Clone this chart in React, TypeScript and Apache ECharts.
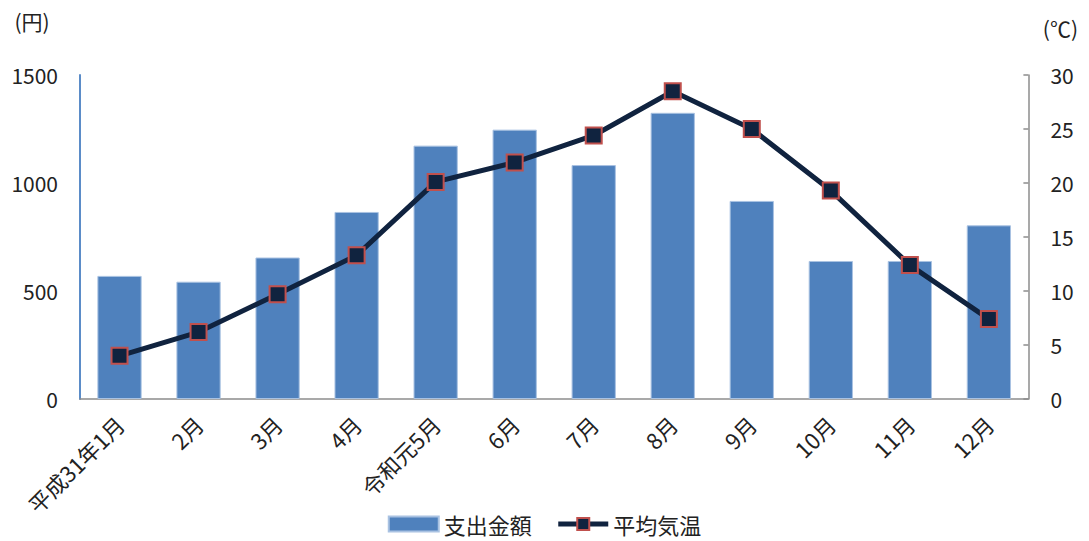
import React, { useEffect, useRef } from "react";
import * as echarts from "echarts";

const categories = ["平成31年1月", "2月", "3月", "4月", "令和元5月", "6月", "7月", "8月", "9月", "10月", "11月", "12月"];
const spending = [570, 543, 655, 866, 1173, 1247, 1083, 1325, 917, 639, 639, 804];
const temperature = [4.0, 6.2, 9.7, 13.3, 20.1, 21.9, 24.4, 28.5, 25.0, 19.3, 12.4, 7.4];
const leftTicks = { min: 0, max: 1500, interval: 500 };
const rightTicks = { min: 0, max: 30, interval: 5 };

const FONT = '"Noto Sans CJK JP", "Noto Sans", sans-serif';

export default function App() {
  const ref = useRef<HTMLDivElement>(null);
  useEffect(() => {
    if (!ref.current) return;
    const chart = echarts.init(ref.current, undefined, { renderer: "svg" });
    chart.setOption({
      animation: false,
      textStyle: { fontFamily: FONT },
      grid: { left: 72, right: 51, top: 67, bottom: 142 },
      legend: {
        top: 505,
        left: "center",
        padding: 0,
        itemWidth: 50,
        itemHeight: 15,
        itemGap: 24,
        textStyle: { fontFamily: FONT, fontSize: 22, color: "#222" },
        data: [
          { name: "支出金額", icon: "rect" },
          { name: "平均気温", lineStyle: { width: 5, color: "#10233F" } },
        ],
      },
      xAxis: {
        type: "category",
        data: categories,
        axisLine: { lineStyle: { color: "#8c8c8c", width: 1.5 } },
        axisTick: { show: false },
        axisLabel: { rotate: 45, fontSize: 22, color: "#222", fontFamily: FONT, margin: 21, interval: 0 },
      },
      yAxis: [
        {
          type: "value",
          ...leftTicks,
          name: "(円)",
          nameLocation: "end",
          nameGap: 44,
          nameTextStyle: { fontSize: 21, color: "#222", fontFamily: FONT, align: "center", padding: [0, 96, 0, 0] },
          axisLine: { show: true, lineStyle: { color: "#5B8CC8", width: 2 } },
          axisTick: { show: false },
          splitLine: { show: false },
          axisLabel: { fontSize: 21, color: "#222", fontFamily: FONT, margin: 22, formatter: (v: number) => String(v) },
        },
        {
          type: "value",
          ...rightTicks,
          position: "right",
          name: "(℃)",
          nameLocation: "end",
          nameGap: 37,
          nameTextStyle: { fontSize: 21, color: "#222", fontFamily: FONT, align: "center", padding: [0, 0, 0, 64] },
          axisLine: { show: true, lineStyle: { color: "#8c8c8c", width: 1.5 } },
          axisTick: { show: true, inside: true, length: 5, lineStyle: { color: "#8c8c8c", width: 1.5 } },
          splitLine: { show: false },
          axisLabel: { fontSize: 21, color: "#222", fontFamily: FONT, margin: 22 },
        },
      ],
      series: [
        {
          name: "支出金額",
          type: "bar",
          data: spending,
          yAxisIndex: 0,
          barWidth: "56%",
          itemStyle: { color: "#4F81BD", borderColor: "#A9C2E2", borderWidth: 1 },
        },
        {
          name: "平均気温",
          type: "line",
          data: temperature,
          yAxisIndex: 1,
          symbol: "rect",
          symbolSize: 16,
          lineStyle: { color: "#10233F", width: 5 },
          itemStyle: { color: "#10233F", borderColor: "#C0504D", borderWidth: 2 },
        },
      ],
    });
    return () => chart.dispose();
  }, []);
  return <div ref={ref} style={{ width: 1073, height: 533 }} />;
}
